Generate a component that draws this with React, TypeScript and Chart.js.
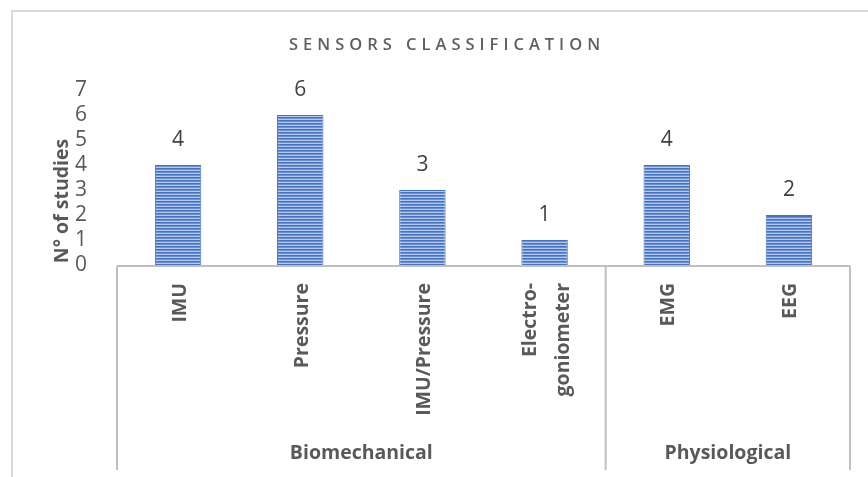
import React, { useEffect, useRef } from "react";
import { Chart, registerables } from "chart.js";

Chart.register(...registerables);

const categories: (string | string[])[] = ["IMU", "Pressure", "IMU/Pressure", ["Electro-", "goniometer"], "EMG", "EEG"];
const studies = [4, 6, 3, 1, 4, 2];
const groups = ["Biomechanical", "Physiological"];
const groupSizes = [4, 2];
const yTicks = [0, 1, 2, 3, 4, 5, 6, 7];
const chartTitle = "SENSORS CLASSIFICATION";
const yAxisTitle = "N° of studies";

const FONT = '"Open Sans", "Liberation Sans", sans-serif';
const TEXT = "#595959";
const AXIS = "#bfbfbf";
const XAXIS_H = 205;

function makePattern(): CanvasPattern | string {
  const c = document.createElement("canvas");
  c.width = 4;
  c.height = 3;
  const g = c.getContext("2d");
  if (!g) return "#4472C4";
  const rows = ["#4472C4", "#6b90d6", "#b7caee"];
  rows.forEach((col, i) => {
    g.fillStyle = col;
    g.fillRect(0, i, 4, 1);
  });
  return g.createPattern(c, "repeat") || "#4472C4";
}

const decoPlugin = {
  id: "deco",
  afterDraw(chart: any) {
    const { ctx, chartArea } = chart;
    const x = chart.scales.x;
    ctx.save();
    // outer frame
    ctx.strokeStyle = "#d9d9d9";
    ctx.lineWidth = 2;
    ctx.beginPath();
    ctx.moveTo(12, 477);
    ctx.lineTo(12, 11);
    ctx.lineTo(868, 11);
    ctx.stroke();

    // title
    ctx.fillStyle = "#5f5f5f";
    ctx.font = `600 16.5px ${FONT}`;
    (ctx as any).letterSpacing = "5px";
    ctx.textAlign = "center";
    ctx.textBaseline = "middle";
    ctx.fillText(chartTitle, 447, 45);
    (ctx as any).letterSpacing = "0px";

    // y axis title
    ctx.save();
    ctx.translate(62, 201);
    ctx.rotate(-Math.PI / 2);
    ctx.font = `bold 19.5px ${FONT}`;
    ctx.fillStyle = TEXT;
    ctx.fillText(yAxisTitle, 0, 0);
    ctx.restore();

    // category tick labels (rotated, end aligned near the axis)
    ctx.font = `bold 19.5px ${FONT}`;
    ctx.fillStyle = TEXT;
    categories.forEach((lab, i) => {
      const lines = Array.isArray(lab) ? lab : [lab];
      const px = x.getPixelForValue(i) + 2;
      lines.forEach((ln, j) => {
        const cx = px + (j - (lines.length - 1) / 2) * 33;
        ctx.save();
        ctx.translate(cx, chartArea.bottom + 18);
        ctx.rotate(-Math.PI / 2);
        ctx.textAlign = "right";
        ctx.textBaseline = "middle";
        ctx.fillText(ln, 0, 0);
        ctx.restore();
      });
    });

    // category axis frame
    const top = chartArea.bottom + 1;
    const bottom = chartArea.bottom + XAXIS_H;
    ctx.strokeStyle = AXIS;
    ctx.lineWidth = 2;
    ctx.beginPath();
    ctx.moveTo(chartArea.left, top);
    ctx.lineTo(chartArea.right, top);
    ctx.stroke();

    const bounds: number[] = [chartArea.left];
    let idx = 0;
    groupSizes.forEach((n, gi) => {
      idx += n;
      if (gi < groupSizes.length - 1) {
        bounds.push((x.getPixelForValue(idx - 1) + x.getPixelForValue(idx)) / 2);
      }
    });
    bounds.push(chartArea.right);
    bounds.forEach((bx) => {
      ctx.beginPath();
      ctx.moveTo(bx, top);
      ctx.lineTo(bx, bottom);
      ctx.stroke();
    });

    // group labels
    ctx.textAlign = "center";
    ctx.textBaseline = "middle";
    ctx.font = `bold 19.5px ${FONT}`;
    ctx.fillStyle = TEXT;
    groups.forEach((g, i) => {
      ctx.fillText(g, (bounds[i] + bounds[i + 1]) / 2, chartArea.bottom + 188);
    });

    // data labels
    ctx.font = `21px ${FONT}`;
    ctx.fillStyle = "#404040";
    const meta = chart.getDatasetMeta(0);
    meta.data.forEach((el: any, i: number) => {
      ctx.fillText(String(studies[i]), el.x, el.y - 25);
    });
    ctx.restore();
  },
};

export default function App() {
  const ref = useRef<HTMLCanvasElement | null>(null);
  useEffect(() => {
    document.body.style.margin = "0";
    if (!ref.current) return;
    const chart = new Chart(ref.current, {
      type: "bar",
      data: {
        labels: categories as any,
        datasets: [
          {
            data: studies,
            backgroundColor: makePattern() as any,
            borderColor: "#4472C4",
            borderWidth: 1,
            categoryPercentage: 1,
            barPercentage: 0.38,
          },
        ],
      },
      options: {
        responsive: false,
        animation: false,
        devicePixelRatio: 1,
        layout: { padding: { top: 90, right: 18, bottom: 7, left: 0 } },
        plugins: { legend: { display: false }, title: { display: false }, tooltip: { enabled: false } },
        scales: {
          x: {
            grid: { display: false },
            border: { display: false },
            ticks: { display: false, autoSkip: false },
            afterFit: (s: any) => {
              s.height = XAXIS_H;
            },
          },
          y: {
            min: 0,
            max: 7,
            grid: { display: false },
            border: { display: false },
            ticks: {
              autoSkip: false,
              padding: 22,
              color: TEXT,
              font: { family: FONT, size: 21 },
            },
            afterBuildTicks: (s: any) => {
              s.ticks = yTicks.map((v) => ({ value: v }));
            },
            afterFit: (s: any) => {
              s.width = 117;
            },
          },
        },
      },
      plugins: [decoPlugin],
    });
    return () => chart.destroy();
  }, []);
  return <canvas ref={ref} width={868} height={477} style={{ display: "block" }} />;
}
